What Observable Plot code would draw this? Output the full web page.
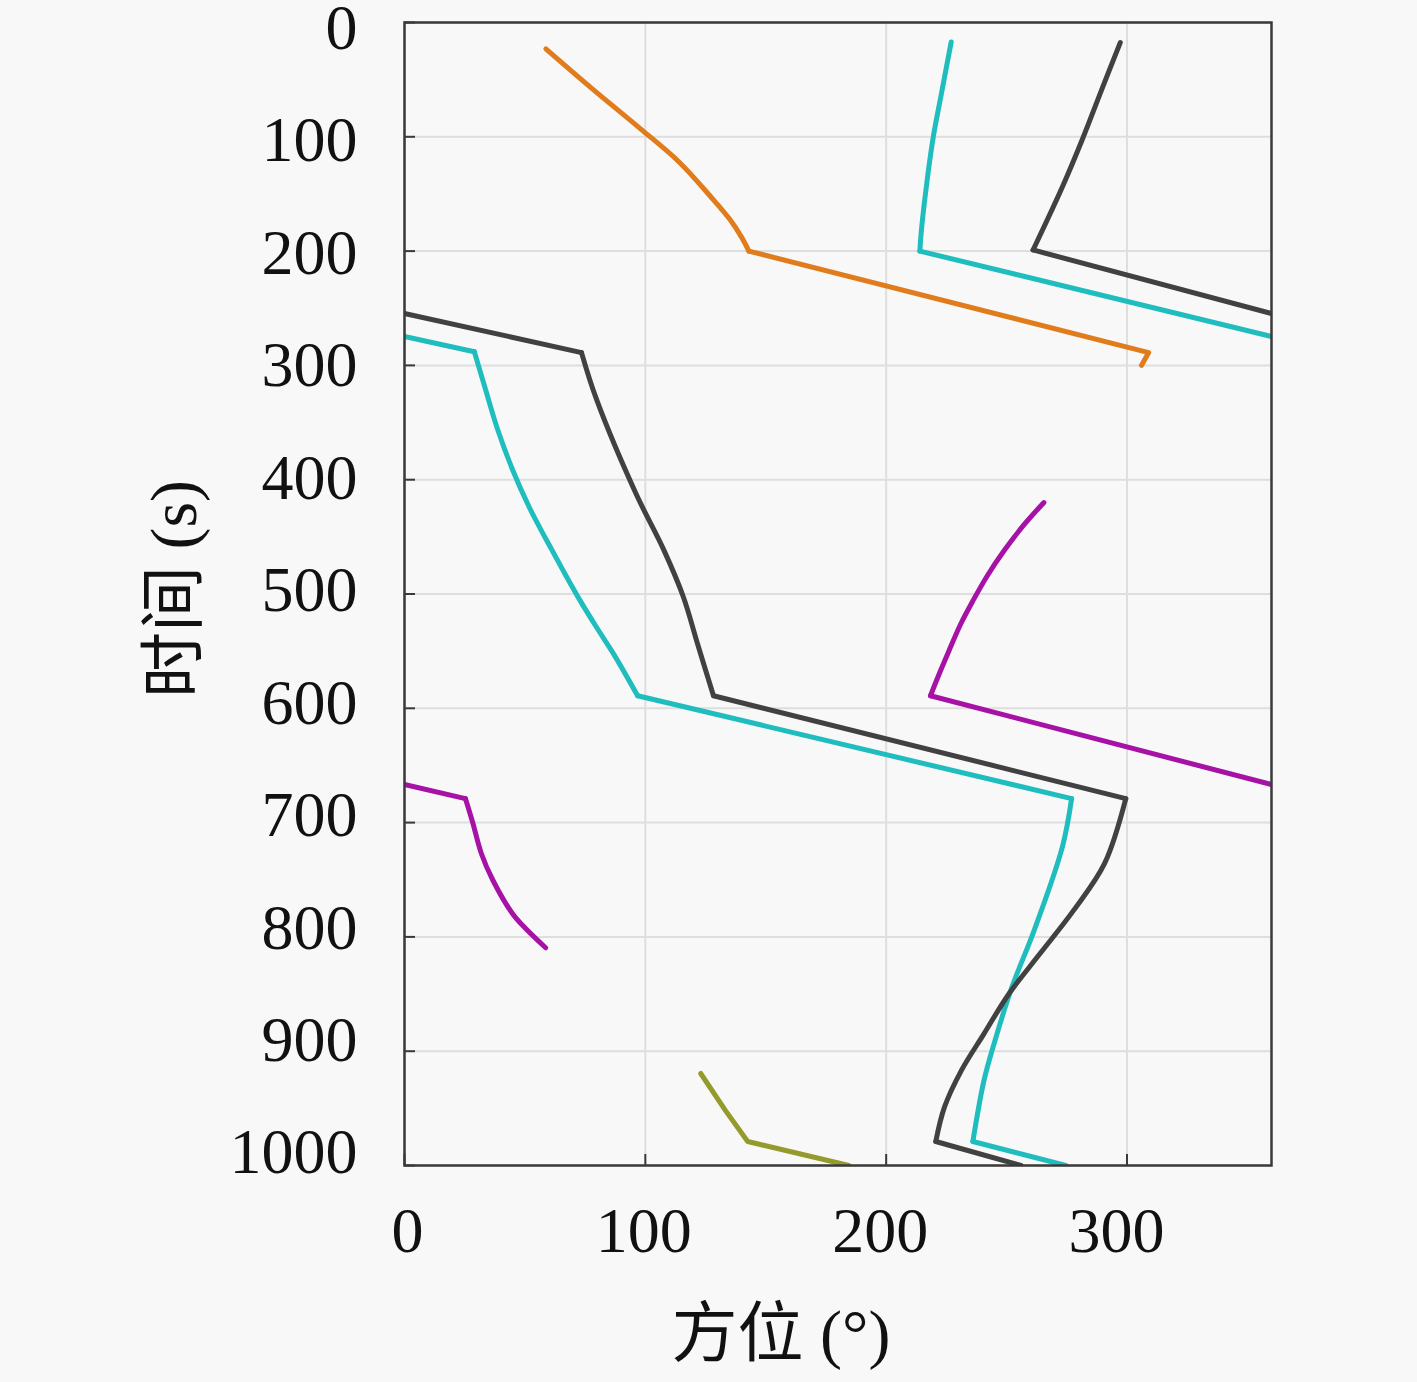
<!DOCTYPE html>
<html>
<head>
<meta charset="utf-8">
<script src="https://cdn.jsdelivr.net/npm/d3@7"></script>
<script src="https://cdn.jsdelivr.net/npm/@observablehq/plot@0.6"></script>
<style>
html, body { margin: 0; padding: 0; background: #f8f8f8; }
#chart svg { display: block; }
</style>
</head>
<body>
<div id="chart"></div>
<script>
// Tick values
const xTicks = [0, 100, 200, 300];
const yTicks = [0, 100, 200, 300, 400, 500, 600, 700, 800, 900, 1000];

// Track pieces: [azimuth (deg), time (s)]; "Curve" pieces are smooth, "Seg" pieces are straight
const orangeCurve = [[58.7, 23], [78, 58], [98, 93], [114, 122], [127, 152], [135, 172], [140, 188], [143, 200]];
const orangeSeg = [[143, 200], [309, 288.8], [306, 300]];

const cyanTopCurve = [[227, 17], [223, 61.6], [219.6, 99.7], [217.2, 135], [214.5, 184.7], [214, 200]];
const cyanTopSeg = [[214, 200], [360, 274.7]];
const cyanLowSeg1 = [[0, 274.7], [29, 288]];
const cyanLowCurve1 = [[29, 288], [33.5, 320], [38.5, 355], [45, 392], [52, 425], [59, 453], [66, 480],
  [73, 506], [80, 530], [87, 553], [96.8, 589]];
const cyanLowSeg2 = [[96.8, 589], [277, 679]];
const cyanLowCurve2 = [[277, 679], [273.2, 721], [261.5, 794], [252.2, 844], [245.2, 890.6], [240.6, 925.7], [236, 979]];
const cyanLowSeg3 = [[236, 979], [274.6, 1000]];

const greyTopCurve = [[297.2, 17.6], [289.5, 58.7], [281.4, 102.6], [273.2, 143.7], [261, 199]];
const greyTopSeg = [[261, 199], [360, 254.6]];
const greyLowSeg1 = [[0, 254.6], [73.5, 288.8]];
const greyLowCurve1 = [[73.5, 288.8], [79.7, 329.6], [96, 411.7], [107.7, 461.6], [115.8, 502.6],
  [121.7, 543.7], [128.3, 589]];
const greyLowSeg2 = [[128.3, 589], [299.5, 679]];
const greyLowCurve2 = [[299.5, 679], [290.7, 735.7], [277.9, 776.6], [263.9, 814.6], [251, 849.7],
  [240.6, 884.8], [231.2, 917], [224.2, 949], [220.6, 979]];
const greyLowSeg3 = [[220.6, 979], [256, 1000]];

const magentaTopCurve = [[265.5, 420], [257, 440], [249, 462], [242, 484], [236, 506], [231, 526],
  [226, 550], [222, 570], [218.4, 589]];
const magentaTopSeg = [[218.4, 589], [360, 666.7]];
const magentaLowSeg = [[0, 666.7], [25.3, 679]];
const magentaLowCurve = [[25.3, 679], [28.4, 700.6], [31.9, 727], [36.6, 750], [44.8, 779.5], [50, 792], [58.6, 809.5]];

const oliveSeg = [[123, 919.5], [133.3, 952], [142.5, 979], [184.5, 1000]];

const trackNames = ["T1", "T2", "T3", "T4", "T5"];
const trackColors = ["#e07c1c", "#1fbdbd", "#414141", "#a612a6", "#959a2c"];

const curvePieces = [
  ["T1", orangeCurve], ["T2", cyanTopCurve], ["T2", cyanLowCurve1], ["T2", cyanLowCurve2],
  ["T3", greyTopCurve], ["T3", greyLowCurve1], ["T3", greyLowCurve2],
  ["T4", magentaTopCurve], ["T4", magentaLowCurve]
];
const segPieces = [
  ["T1", orangeSeg], ["T2", cyanTopSeg], ["T2", cyanLowSeg1], ["T2", cyanLowSeg2], ["T2", cyanLowSeg3],
  ["T3", greyTopSeg], ["T3", greyLowSeg1], ["T3", greyLowSeg2], ["T3", greyLowSeg3],
  ["T4", magentaTopSeg], ["T4", magentaLowSeg], ["T5", oliveSeg]
];

const toRows = (pieces, tag) => pieces.flatMap(([track, pts], i) =>
  pts.map(([az, t]) => ({track, piece: tag + i, az, t})));
const curveRows = toRows(curvePieces, "c");
const segRows = toRows(segPieces, "s");

const serif = "'Liberation Serif', 'Noto Sans CJK SC', serif";
const lineStyle = {x: "az", y: "t", z: "piece", stroke: {value: "track", scale: "color"}, strokeWidth: 5,
  strokeLinecap: "round", strokeLinejoin: "round", clip: true};

const chart = Plot.plot({
  width: 1417,
  height: 1382,
  marginLeft: 404,
  marginRight: 146,
  marginTop: 22,
  marginBottom: 217,
  style: {background: "#f8f8f8", fontFamily: serif, color: "#111"},
  x: {domain: [0, 360]},
  y: {domain: [0, 1000], reverse: true},
  color: {type: "ordinal", domain: trackNames, range: trackColors},
  marks: [
    Plot.gridX(xTicks, {stroke: "#dedede", strokeOpacity: 1, strokeWidth: 2}),
    Plot.gridY(yTicks, {stroke: "#dedede", strokeOpacity: 1, strokeWidth: 2}),
    Plot.line(segRows, lineStyle),
    Plot.line(curveRows, {...lineStyle, curve: "catmull-rom"}),
    Plot.tickX(xTicks, {x: d => d, insetTop: 1143 - 11, stroke: "#3a3a3a", strokeWidth: 2}),
    Plot.tickY(yTicks, {y: d => d, insetRight: 867 - 11, stroke: "#3a3a3a", strokeWidth: 2}),
    Plot.frame({stroke: "#3a3a3a", strokeWidth: 2.5}),
    ...xTicks.map((v, i) => Plot.axisX([v], {tickSize: 0, tickPadding: 41, fontSize: 64, label: null,
      fontFamily: serif, tickFormat: d => String(d), dx: 3 - 4.5 * i})),
    ...yTicks.map((v, i) => Plot.axisY([v], {tickSize: 0, tickPadding: 47, fontSize: 64, label: null,
      fontFamily: serif, tickFormat: d => String(d), dy: 6 - 1.85 * i})),
    Plot.text(["方位 (°)"], {frameAnchor: "bottom", textAnchor: "middle", lineAnchor: "middle",
      dy: 169, dx: -57, fontSize: 66, fontFamily: serif, fill: "#111"}),
    Plot.text(["时间 (s)"], {frameAnchor: "left", textAnchor: "middle", lineAnchor: "middle",
      dx: -230, dy: -5, rotate: -90, fontSize: 66, fontFamily: serif, fill: "#111"})
  ]
});
document.getElementById("chart").appendChild(chart);
</script>
</body>
</html>
